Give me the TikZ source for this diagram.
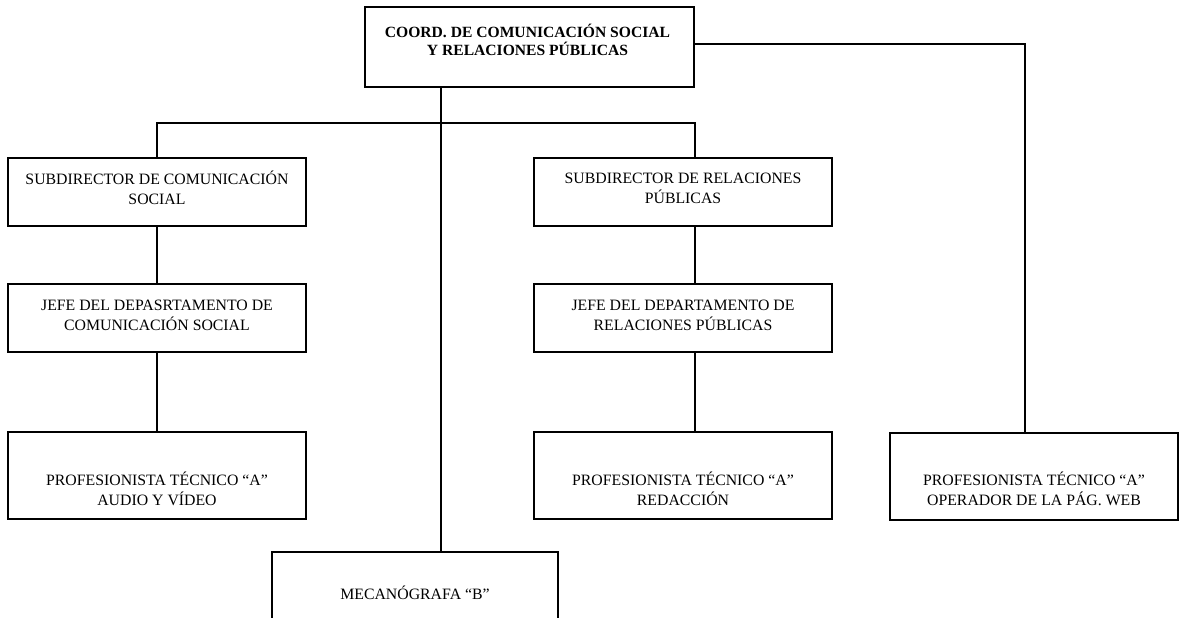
\documentclass[tikz,border=0pt]{standalone}
\usepackage{fontspec}
\setmainfont{Liberation Serif}
\begin{document}
\begin{tikzpicture}[x=1pt,y=-1pt,
  lbl/.style={align=center,font=\fontsize{15.8}{20}\selectfont,inner sep=0pt},
  conn/.style={line width=1.3pt}]
\clip (0,0) rectangle (1180,618);
% boxes
\node[draw,line width=1.3pt,inner sep=0pt,minimum width=329pt,minimum height=80pt] (coord) at (529.5,47) {};
\node[draw,line width=1.3pt,inner sep=0pt,minimum width=298pt,minimum height=68pt] (sub1) at (157,192) {};
\node[draw,line width=1.3pt,inner sep=0pt,minimum width=298pt,minimum height=68pt] (jefe1) at (157,318) {};
\node[draw,line width=1.3pt,inner sep=0pt,minimum width=298pt,minimum height=87pt] (prof1) at (157,475.5) {};
\node[draw,line width=1.3pt,inner sep=0pt,minimum width=298pt,minimum height=68pt] (sub2) at (683,192) {};
\node[draw,line width=1.3pt,inner sep=0pt,minimum width=298pt,minimum height=68pt] (jefe2) at (683,318) {};
\node[draw,line width=1.3pt,inner sep=0pt,minimum width=298pt,minimum height=87pt] (prof2) at (683,475.5) {};
\node[draw,line width=1.3pt,inner sep=0pt,minimum width=288pt,minimum height=87pt] (prof3) at (1034,476.5) {};
\node[draw,line width=1.3pt,inner sep=0pt,minimum width=286pt,minimum height=100pt] (meca) at (415,602) {};
% texts
\node[lbl,font=\fontsize{15.6}{18}\selectfont\bfseries] (tcoord) at (527.5,40) {COORD. DE COMUNICACIÓN SOCIAL\\Y RELACIONES PÚBLICAS};
\node[lbl] (tsub1) at (157,188) {SUBDIRECTOR DE COMUNICACIÓN\\SOCIAL};
\node[lbl] (tjefe1) at (157,315) {JEFE DEL DEPASRTAMENTO DE\\COMUNICACIÓN SOCIAL};
\node[lbl] (tprof1) at (157,489) {PROFESIONISTA TÉCNICO “A”\\AUDIO Y VÍDEO};
\node[lbl] (tsub2) at (683,188) {SUBDIRECTOR DE RELACIONES\\PÚBLICAS};
\node[lbl] (tjefe2) at (683,315) {JEFE DEL DEPARTAMENTO DE\\RELACIONES PÚBLICAS};
\node[lbl] (tprof2) at (683,489) {PROFESIONISTA TÉCNICO “A”\\REDACCIÓN};
\node[lbl] (tprof3) at (1034,489) {PROFESIONISTA TÉCNICO “A”\\OPERADOR DE LA PÁG. WEB};
\node[lbl] (tmeca) at (415,593) {MECANÓGRAFA “B”};
% connectors
\coordinate (bar) at (441,123);
\draw[conn] (coord.south -| bar) -- (meca.north -| bar);
\draw[conn] (sub1.north) |- (bar) -| (sub2.north -| 695,0);
\draw[conn] (sub1) -- (jefe1);
\draw[conn] (jefe1) -- (prof1);
\draw[conn] (sub2.south -| 695,0) -- (jefe2.north -| 695,0);
\draw[conn] (jefe2.south -| 695,0) -- (prof2.north -| 695,0);
\draw[conn] (coord.east |- 0,44) -| (prof3.north -| 1025,0);
\end{tikzpicture}
\end{document}
